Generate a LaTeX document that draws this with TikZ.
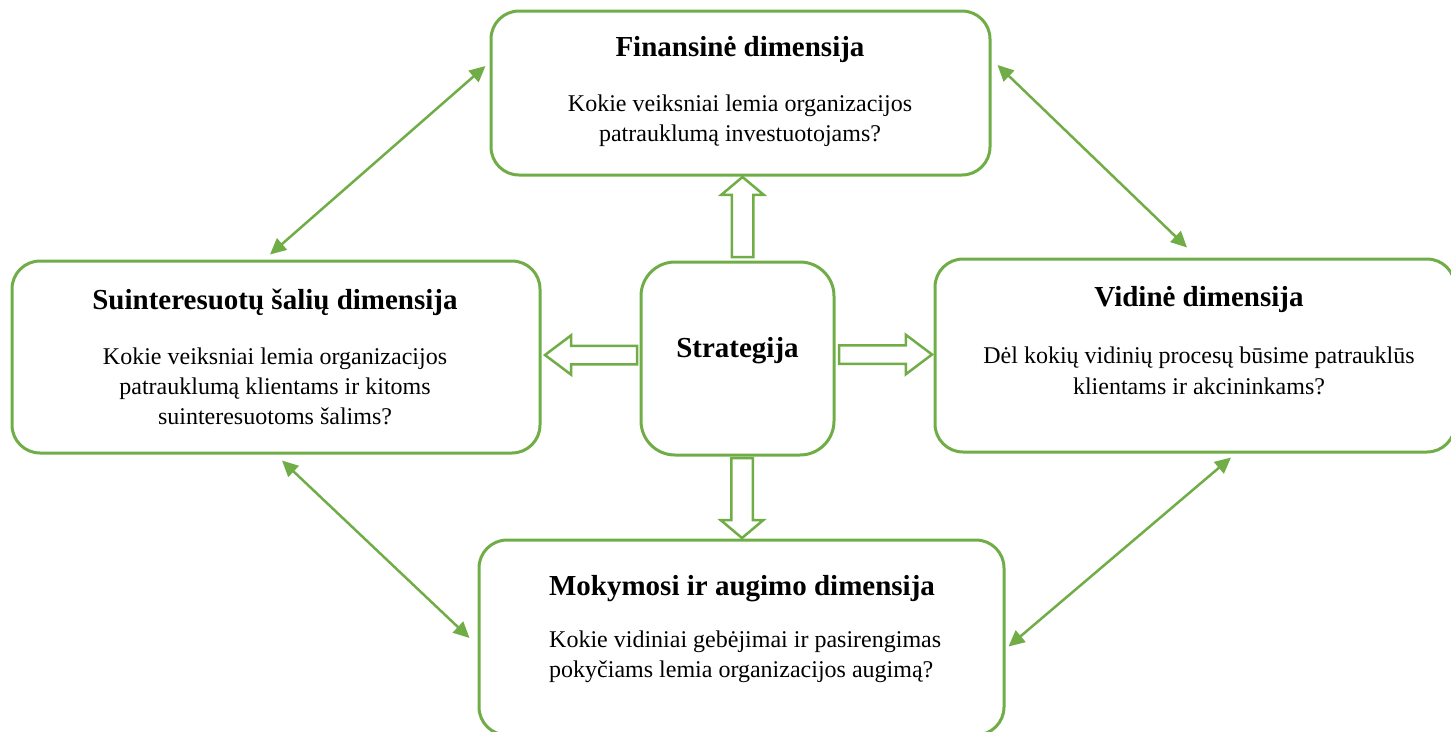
\documentclass[tikz,border=0pt]{standalone}
\usepackage{fontspec}
\setmainfont{Liberation Serif}
\usetikzlibrary{arrows.meta,shapes.arrows}
\definecolor{leaf}{HTML}{70AD47}

\begin{document}
\begin{tikzpicture}[x=1pt,y=-1pt,
  panel/.style={draw=leaf, line width=3pt, rounded corners=28pt, fill=white, inner sep=0pt},
  hub/.style={draw=leaf, line width=3pt, rounded corners=34pt, fill=white, inner sep=0pt},
  heading/.style={anchor=base, inner sep=0pt, font=\fontsize{29}{34}\selectfont\bfseries},
  bodyline/.style={anchor=base, inner sep=0pt, font=\fontsize{24}{30}\selectfont},
  link/.style={draw=leaf, line width=2.5pt,
    {Triangle[length=16pt,width=15pt]}-{Triangle[length=16pt,width=15pt]}},
  fat/.style={single arrow, draw=leaf, line width=2.5pt, fill=white,
    anchor=tail, outer sep=0pt, inner xsep=0pt},
  fatv/.style={fat, inner ysep=9.5pt, single arrow head extend=10.5pt,
    single arrow tip angle=100, minimum height=80pt},
  fath/.style={fat, inner ysep=8pt, single arrow head extend=10.5pt,
    single arrow tip angle=74}
]
\useasboundingbox (0,0) rectangle (1451,731);

% dimension panels and the central strategy box
\node[panel, minimum width=499pt, minimum height=164pt] (fin) at (740.5,93) {};
\node[panel, minimum width=528pt, minimum height=192pt] (stake) at (276,357) {};
\node[panel, minimum width=520pt, minimum height=193pt] (vid) at (1195,355.5) {};
\node[panel, minimum width=525pt, minimum height=195pt] (mok) at (741.5,637.5) {};
\node[hub, minimum width=193pt, minimum height=193pt] (strat) at (737.5,358.5) {};

% texts
\node[heading] (finT) at (740,56) {Finansinė dimensija};
\node[bodyline] (finA) at (740,111) {Kokie veiksniai lemia organizacijos};
\node[bodyline] (finB) at (740,141) {patrauklumą investuotojams?};

\node[heading] (stakeT) at (275,309) {Suinteresuotų šalių dimensija};
\node[bodyline] (stakeA) at (275,364) {Kokie veiksniai lemia organizacijos};
\node[bodyline] (stakeB) at (275,394) {patrauklumą klientams ir kitoms};
\node[bodyline] (stakeC) at (275,424) {suinteresuotoms šalims?};

\node[heading] (stratT) at (737.5,357) {Strategija};

\node[heading] (vidT) at (1199,306) {Vidinė dimensija};
\node[bodyline] (vidA) at (1199,363) {Dėl kokių vidinių procesų būsime patrauklūs};
\node[bodyline] (vidB) at (1199,394) {klientams ir akcininkams?};

\node[heading] (mokT) at (742,595) {Mokymosi ir augimo dimensija};
\node[bodyline, anchor=base west] (mokA) at (549,647) {Kokie vidiniai gebėjimai ir pasirengimas};
\node[bodyline, anchor=base west] (mokB) at (549,677) {pokyčiams lemia organizacijos augimą?};

% block arrows from the strategy box
\node[fatv, rotate=90] (upA) at (742.5,257) {};
\node[fatv, rotate=-90] (downA) at (742,458) {};
\node[fath, minimum height=93pt] (rightA) at (839,354.5) {};
\node[fath, minimum height=92pt, rotate=180] (leftA) at (637,355) {};

% two-way links between neighbouring dimensions
\draw[link] ([shift={(-6,-5)}]stake.north) -- ([shift={(-4,-27)}]fin.west);
\draw[link] ([shift={(6,-28)}]fin.east) -- ([shift={(-8,-10)}]vid.north);
\draw[link] ([shift={(6,6)}]stake.south) -- ([shift={(-8,0.5)}]mok.west);
\draw[link] ([shift={(36,4)}]vid.south) -- ([shift={(3,9)}]mok.east);
\end{tikzpicture}
\end{document}
